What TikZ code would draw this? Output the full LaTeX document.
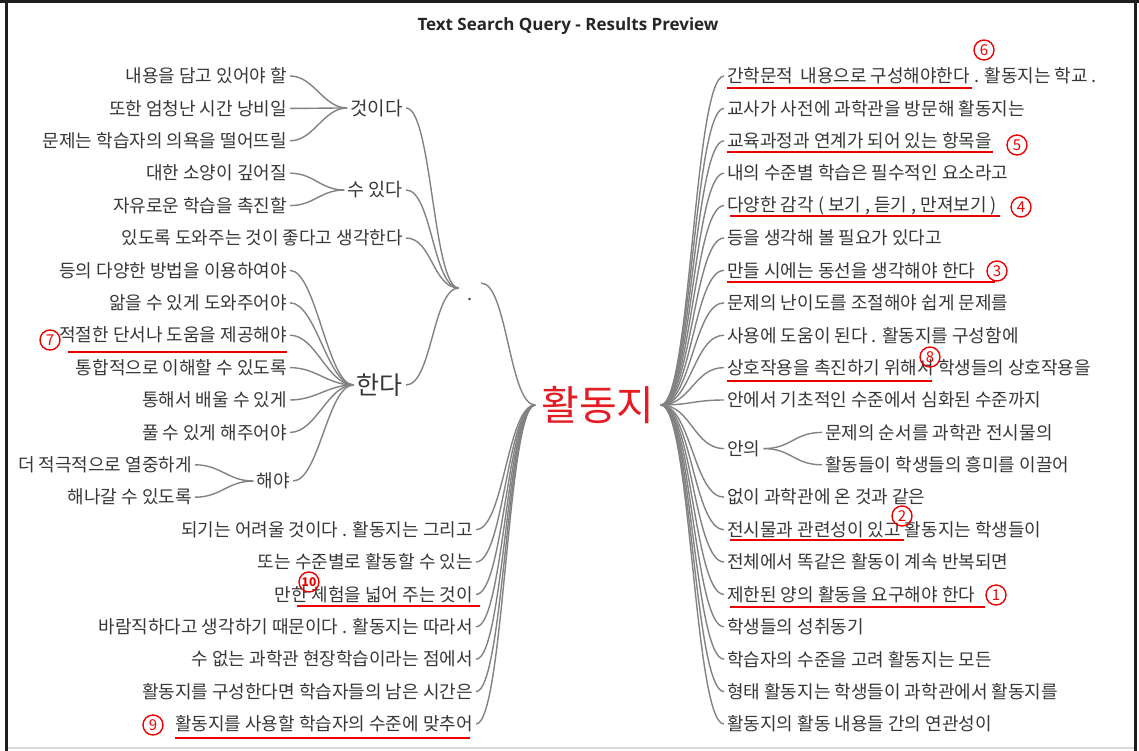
\documentclass[tikz,border=0pt]{standalone}
\usepackage{fontspec}
\newfontfamily\kr{Noto Sans CJK KR}
\newfontfamily\ttl{Open Sans}
\definecolor{txt}{RGB}{55,55,55}
\definecolor{lg}{RGB}{130,130,130}
\definecolor{hl}{RGB}{228,28,36}
\definecolor{ul}{RGB}{236,0,0}
\definecolor{frame}{RGB}{30,30,30}
\begin{document}
\begin{tikzpicture}[x=1pt,y=-1pt,
  wt/.style={font={\kr\fontsize{18}{20}\selectfont}, text=txt, inner sep=3pt},
  lt/.style={wt, anchor=east},
  rtx/.style={wt, anchor=west},
  br/.style={draw=lg, line width=1.4pt},
  ulin/.style={draw=ul, line width=1.5pt},
  circ/.style={circle, draw=ul, line width=1.4pt, inner sep=0pt, minimum size=20pt, text=ul, font={\kr\fontsize{15}{15}\selectfont}}
]
\useasboundingbox (0,0) rectangle (1139,751);
% frame
\fill[frame] (0,0) rectangle (1139,3);
\fill[frame] (5,0) rectangle (8,751);
\fill[frame] (1134,0) rectangle (1137,751);
\fill[black!15] (8,747) rectangle (1134,749);
% title
\node[font={\ttl\bfseries\fontsize{17}{19}\selectfont}, text=black!85] (title) at (568,26) {Text Search Query - Results Preview};

% hub
\node[font={\kr\fontsize{41}{44}\selectfont}, text=hl, inner sep=6pt] (hub) at (598,405) {활동지};

% left side level 2
\node[font={\kr\fontsize{19}{20}\selectfont}, text=txt, inner sep=3pt, anchor=east] (geos) at (406,108) {것이다};
\node[font={\kr\fontsize{18.5}{20}\selectfont}, text=txt, inner sep=3pt, anchor=east] (suit) at (406,190) {수 있다};
\node[lt] (l5) at (406,238) {있도록 도와주는 것이 좋다고 생각한다};
\node[font={\kr\fontsize{25}{26}\selectfont}, text=txt, inner sep=3pt, anchor=east] (handa) at (406,385) {한다};
\node[font={\kr\fontsize{18}{20}\selectfont}, text=txt, inner sep=0pt, text height=24pt, text depth=0pt, minimum width=22pt, anchor=base] (dot) at (470,300) {.};

% left leaves
\node[lt] (l0) at (290,76) {내용을 담고 있어야 할};
\node[lt] (l1) at (290,108.4) {또한 엄청난 시간 낭비일};
\node[lt] (l2) at (290,140.8) {문제는 학습자의 의욕을 떨어뜨릴};
\node[lt] (l3) at (290,173.2) {대한 소양이 깊어질};
\node[lt] (l4) at (290,205.6) {자유로운 학습을 촉진할};
\node[lt] (l6) at (290,270.4) {등의 다양한 방법을 이용하여야};
\node[lt] (l7) at (290,302.8) {앎을 수 있게 도와주어야};
\node[lt] (l8) at (290,335.2) {적절한 단서나 도움을 제공해야};
\node[lt] (l9) at (290,367.6) {통합적으로 이해할 수 있도록};
\node[lt] (l10) at (290,400) {통해서 배울 수 있게};
\node[lt] (l11) at (290,432.4) {풀 수 있게 해주어야};
\node[lt] (haeya) at (293,481) {해야};
\node[lt] (l12) at (195,464.8) {더 적극적으로 열중하게};
\node[lt] (l13) at (195,497.2) {해나갈 수 있도록};
\node[lt] (l14) at (476,529.6) {되기는 어려울 것이다 . 활동지는 그리고};
\node[lt] (l15) at (476,562) {또는 수준별로 활동할 수 있는};
\node[lt] (l16) at (476,594.4) {만한 체험을 넓어 주는 것이};
\node[lt] (l17) at (476,626.8) {바람직하다고 생각하기 때문이다 . 활동지는 따라서};
\node[lt] (l18) at (476,659.2) {수 없는 과학관 현장학습이라는 점에서};
\node[lt] (l19) at (476,691.6) {활동지를 구성한다면 학습자들의 남은 시간은};
\node[lt] (l20) at (476,724) {활동지를 사용할 학습자의 수준에 맞추어};

% right leaves
\node[rtx] (r0) at (724,76) {간학문적 \,내용으로 구성해야한다 . 활동지는 학교 .};
\node[rtx] (r1) at (724,108.4) {교사가 사전에 과학관을 방문해 활동지는};
\node[rtx] (r2) at (724,140.8) {교육과정과 연계가 되어 있는 항목을};
\node[rtx] (r3) at (724,173.2) {내의 수준별 학습은 필수적인 요소라고};
\node[rtx] (r4) at (724,205.6) {다양한 감각 ( 보기 , 듣기 , 만져보기 )};
\node[rtx] (r5) at (724,238) {등을 생각해 볼 필요가 있다고};
\node[rtx] (r6) at (724,270.4) {만들 시에는 동선을 생각해야 한다};
\node[rtx] (r7) at (724,302.8) {문제의 난이도를 조절해야 쉽게 문제를};
\node[rtx] (r8) at (724,335.2) {사용에 도움이 된다 . 활동지를 구성함에};
\node[rtx] (r9) at (724,367.6) {상호작용을 촉진하기 위해서 학생들의 상호작용을};
\node[rtx] (r10) at (724,400) {안에서 기초적인 수준에서 심화된 수준까지};
\node[rtx] (anui) at (724,448.6) {안의};
\node[rtx] (r11) at (822,432.4) {문제의 순서를 과학관 전시물의};
\node[rtx] (r12) at (822,464.8) {활동들이 학생들의 흥미를 이끌어};
\node[rtx] (r13) at (724,497.2) {없이 과학관에 온 것과 같은};
\node[rtx] (r14) at (724,529.6) {전시물과 관련성이 있고 활동지는 학생들이};
\node[rtx] (r15) at (724,562) {전체에서 똑같은 활동이 계속 반복되면};
\node[rtx] (r16) at (724,594.4) {제한된 양의 활동을 요구해야 한다};
\node[rtx] (r17) at (724,626.8) {학생들의 성취동기};
\node[rtx] (r18) at (724,659.2) {학습자의 수준을 고려 활동지는 모든};
\node[rtx] (r19) at (724,691.6) {형태 활동지는 학생들이 과학관에서 활동지를};
\node[rtx] (r20) at (724,724) {활동지의 활동 내용들 간의 연관성이};

% connectors left
\foreach \c in {l0,l1,l2} \draw[br] (\c.east) to[out=0,in=180,distance=24pt] (geos.west);
\foreach \c in {l3,l4} \draw[br] (\c.east) to[out=0,in=180,distance=24pt] (suit.west);
\foreach \c in {l6,l7,l8,l9,l10,l11,haeya} \draw[br] (\c.east) to[out=0,in=180,distance=26pt] (handa.west);
\foreach \c in {l12,l13} \draw[br] (\c.east) to[out=0,in=180,distance=26pt] (haeya.west);
\foreach \c in {geos,suit,l5,handa} \draw[br] (\c.east) to[out=0,in=180,distance=26pt] (dot.west);
\draw[br] ([yshift=5pt]dot.east) to[out=0,in=180,distance=26pt] (hub.west);
\foreach \c in {l14,l15,l16,l17,l18,l19,l20} \draw[br] (\c.east) to[out=0,in=180,distance=28pt] (hub.west);
% connectors right
\foreach \c in {r0,r1,r2,r3,r4,r5,r6,r7,r8,r9,r10,anui,r13,r14,r15,r16,r17,r18,r19,r20} \draw[br] (hub.east) to[out=0,in=180,distance=30pt] (\c.west);
\foreach \c in {r11,r12} \draw[br] (anui.east) to[out=0,in=180,distance=28pt] (\c.west);

% underlines
\draw[ulin] (727,88) -- (972,88);
\draw[ulin] (727,152) -- (993,152);
\draw[ulin] (730,216) -- (1000,216);
\draw[ulin] (727,282) -- (995,282);
\draw[ulin] (727,381) -- (932,381);
\draw[ulin] (730,540) -- (904,540);
\draw[ulin] (730,607) -- (985,607);
\draw[ulin] (68,352) -- (287,352);
\draw[ulin] (297,606) -- (480,606);
\draw[ulin] (175,738) -- (470,738);

% circled numbers
\node[circ] (c6) at (984,50) {6};
\node[circ] (c5) at (1017,145) {5};
\node[circ] (c4) at (1021,207) {4};
\node[circ] (c3) at (997,271) {3};
\node[circ] (c8) at (930,357) {8};
\node[circ] (c2) at (902,516) {2};
\node[circ] (c1) at (996,595) {1};
\node[circ] (c7) at (50,340) {7};
\node[circ, font={\kr\bfseries\fontsize{12}{12}\selectfont}] (c10) at (309,582) {10};
\node[circ] (c9) at (153,725) {9};
\end{tikzpicture}
\end{document}
